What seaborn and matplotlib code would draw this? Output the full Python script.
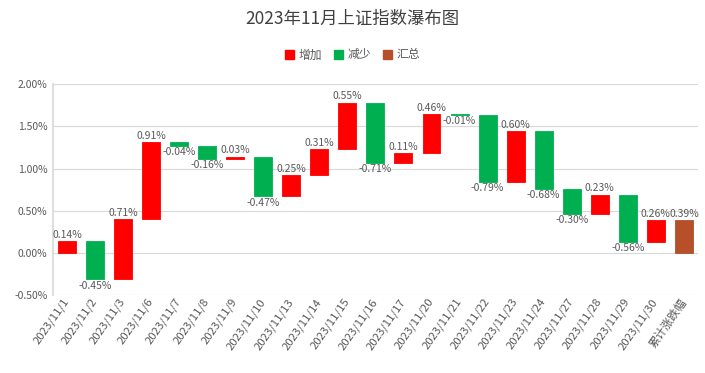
import numpy as np
import pandas as pd
import matplotlib
matplotlib.use("Agg")
import matplotlib.pyplot as plt
import seaborn as sns
from matplotlib.patches import Patch
from matplotlib.ticker import FuncFormatter

# daily change of the SSE index, Nov 2023 (%)
dates = ["2023/11/1", "2023/11/2", "2023/11/3", "2023/11/6", "2023/11/7", "2023/11/8",
         "2023/11/9", "2023/11/10", "2023/11/13", "2023/11/14", "2023/11/15", "2023/11/16",
         "2023/11/17", "2023/11/20", "2023/11/21", "2023/11/22", "2023/11/23", "2023/11/24",
         "2023/11/27", "2023/11/28", "2023/11/29", "2023/11/30"]
changes = [0.14, -0.45, 0.71, 0.91, -0.04, -0.16, 0.03, -0.47, 0.25, 0.31, 0.55, -0.71,
           0.11, 0.46, -0.01, -0.79, 0.60, -0.68, -0.30, 0.23, -0.56, 0.26]
total_label = "累计涨跌幅"
total_value = 0.39

categories = dates + [total_label]
legend_names = ["增加", "减少", "汇总"]
colors = {"增加": "#FF0000", "减少": "#00B050", "汇总": "#B5502B"}

# build waterfall table
cum = np.cumsum(changes)
prev = np.concatenate([[0.0], cum[:-1]])
df = pd.DataFrame({
    "date": categories,
    "height": changes + [total_value],
    "bottom": list(prev) + [0.0],
    "kind": ["增加" if c >= 0 else "减少" for c in changes] + ["汇总"],
})

sns.set_theme(style="white")
plt.rcParams["font.family"] = ["Noto Sans CJK SC", "DejaVu Sans"]
text_color = "#595959"

fig = plt.figure(figsize=(7.05, 3.73), dpi=100)
ax = fig.add_axes([0.075, 0.208, 0.915, 0.567])

for kind in legend_names:
    sub = df[df["kind"] == kind]
    sns.barplot(x=sub["date"].tolist(), y=sub["height"].tolist(), order=categories,
                bottom=sub["bottom"].to_numpy(), color=colors[kind], saturation=1,
                width=0.64, errorbar=None, ax=ax, zorder=3,
                edgecolor=colors[kind], linewidth=0.6)

# value labels
for i, row in df.iterrows():
    top = max(row["bottom"], row["bottom"] + row["height"])
    low = min(row["bottom"], row["bottom"] + row["height"])
    txt = f"{row['height']:.2f}%"
    if row["height"] >= 0:
        ax.text(i, top + 0.015, txt, ha="center", va="bottom", fontsize=7.5, color=text_color)
    else:
        ax.text(i, low - 0.015, txt, ha="center", va="top", fontsize=7.5, color=text_color)

ax.set_ylim(-0.5, 2.0)
ax.set_yticks(np.arange(-0.5, 2.01, 0.5))
ax.yaxis.set_major_formatter(FuncFormatter(lambda v, p: f"{v:.2f}%"))
ax.set_xlim(-0.5, len(categories) - 0.5)
ax.grid(axis="y", color="#D9D9D9", linewidth=0.8, zorder=0)
ax.set_axisbelow(True)
for s in ["top", "right", "bottom"]:
    ax.spines[s].set_visible(False)
ax.spines["left"].set_color("#D9D9D9")
ax.set_xlabel("")
ax.set_ylabel("")
ax.tick_params(axis="y", labelsize=7.5, colors=text_color, length=0, pad=4)
ax.tick_params(axis="x", labelsize=8.2, colors=text_color, length=0, pad=3)
plt.setp(ax.get_xticklabels(), rotation=55, ha="right", rotation_mode="anchor", va="center")

fig.suptitle("2023年11月上证指数瀑布图", y=0.975, fontsize=12.5, color="#404040")
handles = [Patch(color=colors[k]) for k in legend_names]
leg = fig.legend(handles, legend_names, loc="center", bbox_to_anchor=(0.5, 0.853), ncol=3,
                 frameon=False, fontsize=8.5, handlelength=0.75, handleheight=0.75,
                 handletextpad=0.4, columnspacing=1.0)
for t in leg.get_texts():
    t.set_color(text_color)

fig.savefig("out.png", dpi=100)
